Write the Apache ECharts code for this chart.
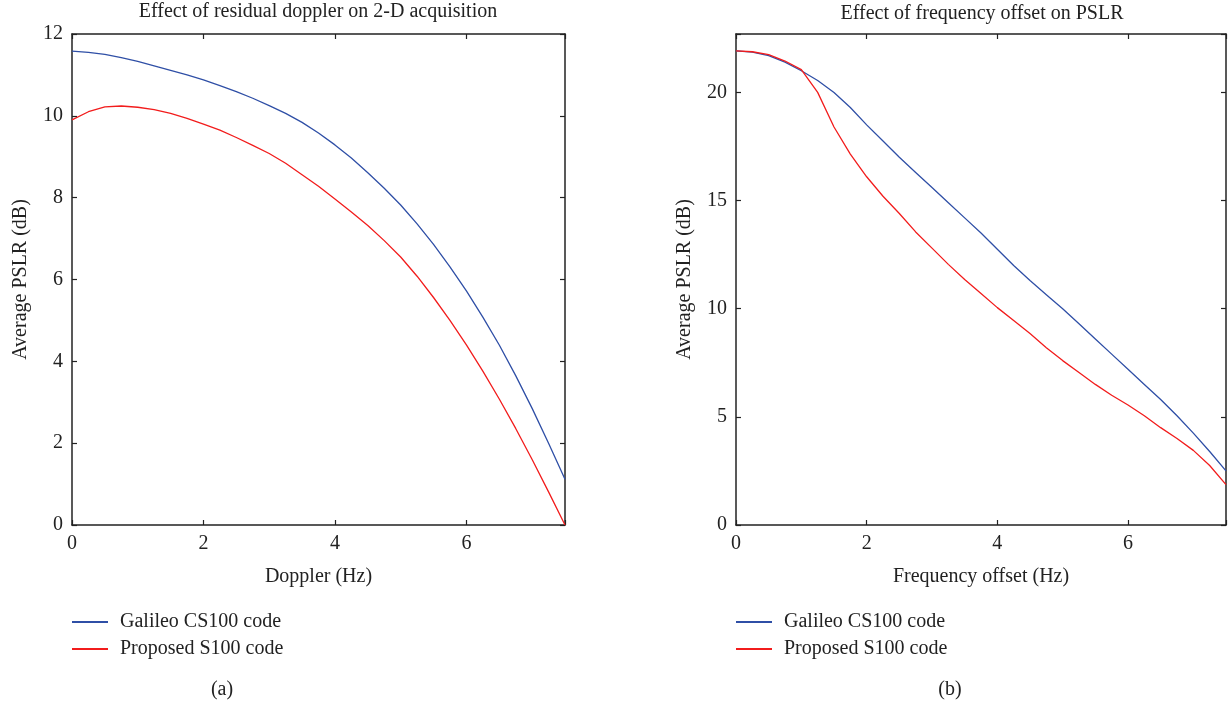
<!DOCTYPE html>
<html>
<head>
<meta charset="utf-8">
<script src="https://cdn.jsdelivr.net/npm/echarts@6/dist/echarts.min.js"></script>
<style>html,body{margin:0;padding:0;background:#fff;}#c{width:1229px;height:702px;}</style>
</head>
<body>
<div id="c"></div>
<script>
// ---- Data ----
const dopplerX = [0,0.25,0.5,0.75,1,1.25,1.5,1.75,2,2.25,2.5,2.75,3,3.25,3.5,3.75,4,4.25,4.5,4.75,5,5.25,5.5,5.75,6,6.25,6.5,6.75,7,7.25,7.5];
const dopplerGalileo = [11.58,11.55,11.50,11.42,11.33,11.22,11.11,11.00,10.88,10.74,10.59,10.43,10.25,10.06,9.84,9.58,9.29,8.97,8.61,8.23,7.82,7.36,6.86,6.31,5.72,5.08,4.40,3.65,2.85,2.00,1.12];
const dopplerProposed = [9.90,10.10,10.22,10.24,10.21,10.15,10.06,9.94,9.80,9.65,9.47,9.28,9.08,8.84,8.56,8.28,7.97,7.65,7.32,6.95,6.55,6.08,5.56,5.00,4.40,3.76,3.08,2.36,1.60,0.81,0.0];

const freqX = [0,0.25,0.5,0.75,1,1.25,1.5,1.75,2,2.25,2.5,2.75,3,3.25,3.5,3.75,4,4.25,4.5,4.75,5,5.25,5.5,5.75,6,6.25,6.5,6.75,7,7.25,7.5];
const freqGalileo = [21.92,21.86,21.70,21.40,21.00,20.55,20.00,19.30,18.50,17.75,17.00,16.30,15.60,14.90,14.20,13.50,12.75,12.00,11.30,10.65,10.00,9.30,8.60,7.90,7.20,6.50,5.80,5.05,4.25,3.40,2.50];
const freqProposed = [21.92,21.88,21.75,21.45,21.05,20.00,18.40,17.15,16.10,15.20,14.40,13.55,12.80,12.05,11.35,10.70,10.05,9.45,8.85,8.20,7.60,7.05,6.50,6.00,5.55,5.05,4.50,4.00,3.45,2.75,1.87];

const seriesNames = ['Galileo CS100 code','Proposed S100 code'];
const titles = ['Effect of residual doppler on 2-D acquisition','Effect of frequency offset on PSLR'];
const xNames = ['Doppler (Hz)','Frequency offset (Hz)'];
const yName = 'Average PSLR (dB)';
const panelLabels = ['(a)','(b)'];
const xTicks = [0,2,4,6];
const yTicksA = [0,2,4,6,8,10,12];
const yTicksB = [0,5,10,15,20];

// ---- Chart ----
const FONT = 'Liberation Serif';
const FS = 20;
const INK = '#222';
const BLUE = '#2f4fa6';
const RED = '#f21c1c';
const zip = (xs, ys) => xs.map((x, i) => [x, ys[i]]);

function xAx(gi, pos, show) {
  return {
    type: 'value', gridIndex: gi, position: pos, min: 0, max: 7.5, interval: 2,
    name: show ? xNames[gi] : '', nameLocation: 'middle', nameGap: 42,
    nameTextStyle: {fontFamily: FONT, fontSize: FS, color: INK},
    axisLine: {show: true, onZero: false, lineStyle: {color: INK, width: 1.5}},
    axisTick: {show: true, inside: true, length: 5, lineStyle: {color: INK, width: 1.2}},
    axisLabel: {show: show, fontFamily: FONT, fontSize: FS, color: INK, margin: 9,
      formatter: v => (xTicks.indexOf(v) >= 0 ? String(v) : '')},
    splitLine: {show: false}
  };
}
function yAx(gi, pos, show, max, interval, ticks) {
  return {
    type: 'value', gridIndex: gi, position: pos, min: 0, max: max, interval: interval,
    name: show ? yName : '', nameLocation: 'middle', nameGap: 41,
    nameTextStyle: {fontFamily: FONT, fontSize: FS, color: INK},
    axisLine: {show: true, onZero: false, lineStyle: {color: INK, width: 1.5}},
    axisTick: {show: true, inside: true, length: 5, lineStyle: {color: INK, width: 1.2}},
    axisLabel: {show: show, fontFamily: FONT, fontSize: FS, color: INK, margin: 9,
      formatter: v => (ticks.indexOf(v) >= 0 ? String(v) : '')},
    splitLine: {show: false}
  };
}
function line(name, xi, yi, data, color) {
  return {
    name: name, type: 'line', xAxisIndex: xi, yAxisIndex: yi, data: data,
    showSymbol: false, symbol: 'none', smooth: false, animation: false,
    lineStyle: {color: color, width: 1.3}, itemStyle: {color: color}, z: 3
  };
}
const legendCommon = {
  orient: 'vertical', top: 612, padding: 0, itemWidth: 36, itemHeight: 2, itemGap: 7, icon: 'rect',
  textStyle: {fontFamily: FONT, fontSize: FS, color: INK, lineHeight: 20, padding: [0, 0, 0, 7]},
  data: seriesNames, selectedMode: false
};
const titleStyle = {fontFamily: FONT, fontSize: FS, fontWeight: 'normal', color: INK};

const chart = echarts.init(document.getElementById('c'), null, {renderer: 'canvas'});
chart.setOption({
  backgroundColor: '#fff',
  animation: false,
  title: [
    {text: titles[0], left: 318, top: 2, padding: 0, textAlign: 'center', textStyle: titleStyle},
    {text: titles[1], left: 982, top: 4, padding: 0, textAlign: 'center', textStyle: titleStyle},
    {text: panelLabels[0], left: 222, top: 680, padding: 0, textAlign: 'center', textStyle: titleStyle},
    {text: panelLabels[1], left: 950, top: 680, padding: 0, textAlign: 'center', textStyle: titleStyle}
  ],
  legend: [
    Object.assign({left: 72}, legendCommon),
    Object.assign({left: 736}, legendCommon)
  ],
  grid: [
    {left: 72, top: 34, width: 493, height: 491, containLabel: false},
    {left: 736, top: 34, width: 492, height: 491, containLabel: false}
  ],
  xAxis: [xAx(0, 'bottom', true), xAx(0, 'top', false), xAx(1, 'bottom', true), xAx(1, 'top', false)],
  yAxis: [yAx(0, 'left', true, 12, 2, yTicksA), yAx(0, 'right', false, 12, 2, yTicksA),
          yAx(1, 'left', true, 22.7, 5, yTicksB), yAx(1, 'right', false, 22.7, 5, yTicksB)],
  series: [
    line(seriesNames[0], 0, 0, zip(dopplerX, dopplerGalileo), BLUE),
    line(seriesNames[1], 0, 0, zip(dopplerX, dopplerProposed), RED),
    line(seriesNames[0], 2, 2, zip(freqX, freqGalileo), BLUE),
    line(seriesNames[1], 2, 2, zip(freqX, freqProposed), RED)
  ]
});
</script>
</body>
</html>
